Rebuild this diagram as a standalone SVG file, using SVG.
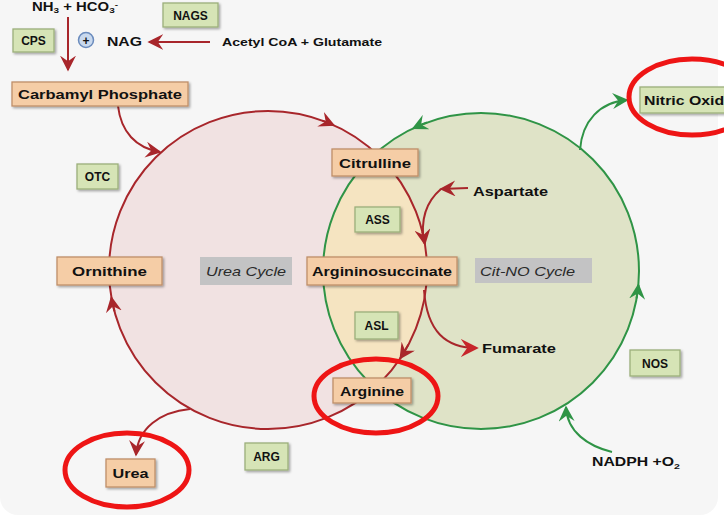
<svg xmlns="http://www.w3.org/2000/svg" width="724" height="527" viewBox="0 0 724 527">
<defs>
<style>
.t{font-family:"Liberation Sans",Arial,sans-serif;font-weight:bold;fill:#111;text-anchor:middle}
.tl{font-family:"Liberation Sans",Arial,sans-serif;font-weight:bold;fill:#111}
.it{font-family:"Liberation Sans",Arial,sans-serif;font-style:italic;fill:#2a2a2a;text-anchor:middle}
.ob{fill:#f5cda6;stroke:#bf8f69;stroke-width:1.3}
.gb{fill:#d6e4b6;stroke:#9caf7c;stroke-width:1.3}
.gy{fill:#c3c3c4}
.ra{fill:none;stroke:#a8262b;stroke-width:2}
.ga{fill:none;stroke:#2f9446;stroke-width:2}
.hl{fill:none;stroke:#ee1515;stroke-width:5}
</style>
<filter id="sh" x="-20%" y="-30%" width="140%" height="160%">
<feDropShadow dx="1.5" dy="1.5" stdDeviation="1" flood-color="#000" flood-opacity="0.35"/>
</filter>
<marker id="mr" viewBox="0 0 10 10" refX="9" refY="5" markerWidth="8" markerHeight="8" orient="auto" markerUnits="strokeWidth">
<path d="M0,0 L10,5 L0,10 L3.5,5 z" fill="#a8262b"/>
</marker>
<marker id="mr2" viewBox="0 0 10 10" refX="9" refY="5" markerWidth="9" markerHeight="9" orient="auto" markerUnits="strokeWidth">
<path d="M0,0 L10,5 L0,10 L3.5,5 z" fill="#c7262b"/>
</marker>
<marker id="mg" viewBox="0 0 10 10" refX="9" refY="5" markerWidth="8" markerHeight="8" orient="auto" markerUnits="strokeWidth">
<path d="M0,0 L10,5 L0,10 L3.5,5 z" fill="#2f9446"/>
</marker>
<clipPath id="gclip"><circle cx="481" cy="271" r="158"/></clipPath>
</defs>

<rect x="0" y="-30" width="718" height="545" rx="18" fill="#f6f6f6"/>

<g id="cycles">
<circle cx="268" cy="270" r="159" fill="#f1e2e2"/>
<circle cx="481" cy="271" r="158" fill="#dfe3c7"/>
<circle cx="268" cy="270" r="159" fill="#f5e4c1" clip-path="url(#gclip)"/>
<circle cx="481" cy="271" r="158" class="ga"/>
<circle cx="268" cy="270" r="159" class="ra"/>
</g>

<g id="connectors">
<path d="M68,17 L68,70" class="ra" marker-end="url(#mr)"/>
<path d="M210,42 L149,42" class="ra" marker-end="url(#mr)"/>
<path d="M118,106 C121,132 136,148 160,152" class="ra" marker-end="url(#mr)"/>
<path d="M322.4,120.6 A159,159 0 0 1 333.7,125.2" class="ra" marker-end="url(#mr)"/>
<path d="M114.4,311.2 A159,159 0 0 1 111.4,297.6" class="ra" marker-end="url(#mr)"/>
<path d="M422.3,231.5 A159,159 0 0 1 424.8,243.8" class="ra" marker-end="url(#mr)"/>
<path d="M408.4,344.6 A159,159 0 0 1 400.3,358.2" class="ra" marker-end="url(#mr)"/>
<path d="M468,188 L441,189" class="ra" marker-end="url(#mr)"/>
<path d="M441,189 C428,200 420,218 424,243" class="ra"/>
<path d="M424,290 C427,332 446,348 477,348" class="ra" marker-end="url(#mr2)"/>
<path d="M190,409 C160,412 138,428 136,455" class="ra" marker-end="url(#mr)"/>
<path d="M427,122.5 A158,158 0 0 0 413.2,128.3" class="ga" marker-end="url(#mg)"/>
<path d="M636.6,298.4 A158,158 0 0 0 638.4,284.8" class="ga" marker-end="url(#mg)"/>
<path d="M580,150 C582,121 600,102 627,100" class="ga" marker-end="url(#mg)"/>
<path d="M612,452 C588,446 567,432 566,407" class="ga" marker-end="url(#mg)"/>
</g>

<g id="nh3"><text class="t" x="75" y="11" font-size="12" textLength="86" lengthAdjust="spacingAndGlyphs">NH<tspan font-size="8" dy="2">3</tspan><tspan dy="-2"> + HCO</tspan><tspan font-size="8" dy="2">3</tspan><tspan font-size="8" dy="-6">-</tspan></text></g>
<g id="nags"><rect x="163" y="3" width="55" height="24" class="gb" filter="url(#sh)"/><text class="t" x="190.5" y="20" font-size="12">NAGS</text></g>
<g id="cps"><rect x="13" y="29" width="41" height="23" class="gb" filter="url(#sh)"/><text class="t" x="33.5" y="45" font-size="12">CPS</text></g>
<g id="plus"><circle cx="86" cy="40" r="7.5" fill="#c9d9ee" stroke="#6a8bbd" stroke-width="1.5"/><text class="t" x="86" y="44.5" font-size="12">+</text></g>
<g id="nag"><text class="tl" x="107" y="46" font-size="12" textLength="35" lengthAdjust="spacingAndGlyphs">NAG</text></g>
<g id="acetyl"><text class="tl" x="222" y="46" font-size="11" textLength="160" lengthAdjust="spacingAndGlyphs">Acetyl CoA + Glutamate</text></g>
<g id="carbamyl"><rect x="12" y="82" width="176" height="24" class="ob" filter="url(#sh)"/><text class="t" x="100" y="99" font-size="13" textLength="164" lengthAdjust="spacingAndGlyphs">Carbamyl  Phosphate</text></g>
<g id="otc"><rect x="77" y="164" width="41" height="25" class="gb" filter="url(#sh)"/><text class="t" x="97.5" y="181" font-size="12">OTC</text></g>
<g id="ornithine"><rect x="57" y="257" width="105" height="28" class="ob" filter="url(#sh)"/><text class="t" x="109.5" y="276" font-size="13" textLength="75" lengthAdjust="spacingAndGlyphs">Ornithine</text></g>
<g id="ureacycle"><rect x="200" y="257" width="92" height="28" class="gy"/><text class="it" x="246" y="276" font-size="13" textLength="80" lengthAdjust="spacingAndGlyphs">Urea Cycle</text></g>
<g id="citrulline"><rect x="332" y="149" width="86" height="27" class="ob" filter="url(#sh)"/><text class="t" x="375" y="167.5" font-size="13" textLength="72" lengthAdjust="spacingAndGlyphs">Citrulline</text></g>
<g id="ass"><rect x="355" y="207" width="45" height="25" class="gb" filter="url(#sh)"/><text class="t" x="377.5" y="224" font-size="12">ASS</text></g>
<g id="aspartate"><text class="tl" x="473" y="196" font-size="13" textLength="75" lengthAdjust="spacingAndGlyphs">Aspartate</text></g>
<g id="argininosuccinate"><rect x="307" y="257" width="150" height="28" class="ob" filter="url(#sh)"/><text class="t" x="382" y="276" font-size="13" textLength="140" lengthAdjust="spacingAndGlyphs">Argininosuccinate</text></g>
<g id="citnocycle"><rect x="475" y="258" width="117" height="25" class="gy"/><text class="it" x="527.5" y="275.5" font-size="13" textLength="95" lengthAdjust="spacingAndGlyphs">Cit-NO Cycle</text></g>
<g id="asl"><rect x="355" y="312" width="43" height="27" class="gb" filter="url(#sh)"/><text class="t" x="376.5" y="330" font-size="12">ASL</text></g>
<g id="fumarate"><text class="tl" x="482" y="353" font-size="13" textLength="74" lengthAdjust="spacingAndGlyphs">Fumarate</text></g>
<g id="arginine"><rect x="333" y="378" width="78" height="25" class="ob" filter="url(#sh)"/><text class="t" x="372" y="395.5" font-size="13" textLength="64" lengthAdjust="spacingAndGlyphs">Arginine</text></g>
<g id="urea"><rect x="106" y="459" width="49" height="28" class="ob" filter="url(#sh)"/><text class="t" x="130.5" y="478" font-size="13" textLength="36" lengthAdjust="spacingAndGlyphs">Urea</text></g>
<g id="arg"><rect x="245" y="443" width="43" height="27" class="gb" filter="url(#sh)"/><text class="t" x="266.5" y="461" font-size="12">ARG</text></g>
<g id="nos"><rect x="630" y="350" width="50" height="26" class="gb" filter="url(#sh)"/><text class="t" x="655" y="368" font-size="12">NOS</text></g>
<g id="nadph"><text class="tl" x="592" y="466" font-size="12" textLength="88" lengthAdjust="spacingAndGlyphs">NADPH +O<tspan font-size="8" dy="3">2</tspan></text></g>
<g id="nitricoxide"><rect x="640" y="87" width="95" height="26" class="gb" filter="url(#sh)"/><text class="tl" x="644" y="105" font-size="13" textLength="89" lengthAdjust="spacingAndGlyphs">Nitric Oxide</text></g>

<g id="highlights">
<ellipse cx="127" cy="470" rx="62" ry="37" class="hl"/>
<ellipse cx="376" cy="396" rx="62" ry="37" class="hl"/>
<ellipse cx="692" cy="97" rx="63" ry="38" class="hl"/>
</g>
</svg>
